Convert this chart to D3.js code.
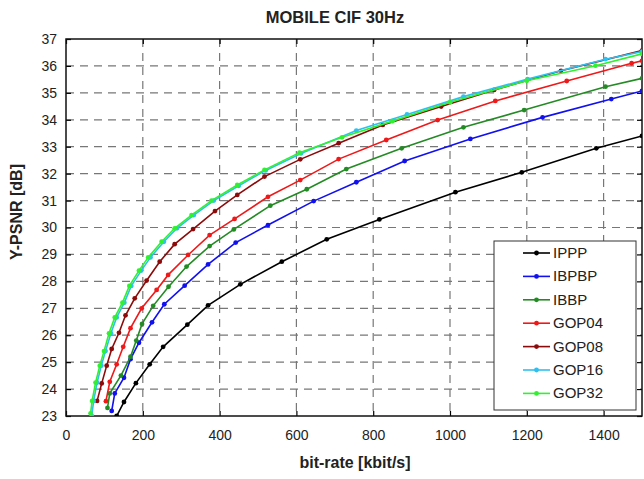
<!DOCTYPE html>
<html><head><meta charset="utf-8">
<script src="https://cdn.jsdelivr.net/npm/d3@7"></script>
<style>body{margin:0;background:#fff}svg{display:block}text{font-family:"Liberation Sans",Arial,sans-serif}</style>
</head><body><svg id="c" width="644" height="479"></svg>
<script>
const title = "MOBILE CIF 30Hz";
const xLabel = "bit-rate [kbit/s]";
const yLabel = "Y-PSNR [dB]";
const xTicks = [0,200,400,600,800,1000,1200,1400];
const yTicks = [23,24,25,26,27,28,29,30,31,32,33,34,35,36,37];
const seriesNames = ["IPPP","IBPBP","IBBP","GOP04","GOP08","GOP16","GOP32"];
const seriesColors = ["#000000","#1010f0","#238b23","#f01818","#8b0a0a","#2ec0f0","#30f030"];
const IPPP = [[132,23.0],[151,23.52],[182,24.22],[218,24.92],[253,25.57],[316,26.39],[370,27.11],[454,27.89],[562,28.73],[679,29.56],[816,30.30],[1014,31.31],[1187,32.05],[1381,32.94],[1500,33.4]];
const IBPBP = [[119,23.19],[127,23.84],[151,24.42],[168,25.11],[190,25.72],[224,26.48],[256,27.15],[309,27.84],[370,28.63],[442,29.44],[526,30.09],[645,30.98],[756,31.68],[882,32.47],[1053,33.29],[1241,34.09],[1420,34.77],[1500,35.07]];
const IBBP = [[108,23.3],[114,23.84],[143,24.50],[168,25.20],[183,25.8],[198,26.42],[227,27.09],[267,27.80],[314,28.55],[374,29.31],[437,29.93],[532,30.81],[627,31.42],[730,32.17],[874,32.94],[1035,33.72],[1193,34.36],[1405,35.23],[1500,35.54]];
const GOP04 = [[104,23.55],[114,24.27],[132,24.92],[149,25.57],[168,26.26],[197,27.0],[236,27.68],[266,28.24],[318,28.98],[374,29.72],[439,30.32],[526,31.14],[610,31.76],[710,32.54],[834,33.25],[968,33.99],[1118,34.70],[1304,35.44],[1473,36.10],[1500,36.19]];
const GOP08 = [[81,23.56],[93,24.21],[106,24.87],[119,25.49],[138,26.09],[155,26.74],[179,27.37],[210,28.03],[244,28.73],[283,29.38],[331,29.94],[388,30.61],[446,31.21],[517,31.89],[610,32.53],[710,33.13],[825,33.81],[977,34.49],[1115,35.11],[1289,35.82],[1500,36.57]];
const GOP16 = [[67,23.0],[72,23.56],[81,24.24],[92,24.87],[103,25.41],[117,26.07],[132,26.66],[152,27.21],[170,27.83],[196,28.40],[220,28.89],[255,29.47],[289,29.97],[333,30.46],[385,31.0],[450,31.55],[520,32.12],[612,32.75],[756,33.6],[888,34.2],[1035,34.86],[1202,35.51],[1405,36.25],[1500,36.53]];
const GOP32 = [[64,23.1],[68,23.56],[77,24.24],[88,24.87],[99,25.41],[112,26.07],[127,26.66],[147,27.21],[165,27.83],[190,28.40],[214,28.89],[249,29.47],[283,29.97],[327,30.46],[379,31.0],[446,31.58],[517,32.14],[608,32.78],[719,33.35],[850,33.95],[1000,34.65],[1200,35.45],[1379,36.01],[1500,36.45]];
const seriesData = [IPPP,IBPBP,IBBP,GOP04,GOP08,GOP16,GOP32];

const svg = d3.select("#c");
const L=66,R=642,T=39,B=416;
const x = d3.scaleLinear().domain([0,1500]).range([L,R]);
const y = d3.scaleLinear().domain([23,37]).range([B,T]);

svg.append("defs").append("clipPath").attr("id","clip").append("rect").attr("x",L).attr("y",T).attr("width",R-L).attr("height",B-T);

// grid
const g = svg.append("g");
g.selectAll(".gx").data(xTicks.filter(d=>d>0)).join("line").attr("x1",d=>x(d)).attr("x2",d=>x(d)).attr("y1",T).attr("y2",B)
 .attr("stroke","#777").attr("stroke-width",1.2).attr("stroke-dasharray","8,6");
g.selectAll(".gy").data(yTicks.filter(d=>d>23&&d<37)).join("line").attr("y1",d=>y(d)).attr("y2",d=>y(d)).attr("x1",L).attr("x2",R)
 .attr("stroke","#777").attr("stroke-width",1.2).attr("stroke-dasharray","8,6");

// axes
const fmt = d3.format("d");
const ax = svg.append("g").attr("transform",`translate(0,${B})`).call(d3.axisBottom(x).tickValues(xTicks).tickFormat(fmt).tickSize(-5).tickPadding(14));
const ax2 = svg.append("g").attr("transform",`translate(0,${T})`).call(d3.axisTop(x).tickValues(xTicks).tickSize(-5).tickFormat(""));
const ay = svg.append("g").attr("transform",`translate(${L},0)`).call(d3.axisLeft(y).tickValues(yTicks).tickFormat(fmt).tickSize(-5).tickPadding(9));
const ay2 = svg.append("g").attr("transform",`translate(${R},0)`).call(d3.axisRight(y).tickValues(yTicks).tickSize(-5).tickFormat(""));
[ax,ax2,ay,ay2].forEach(a=>{a.select(".domain").remove();a.selectAll("line").attr("stroke","#000").attr("stroke-width",1.2);a.selectAll("text").attr("font-size",14).attr("fill","#222").style("font-family","'Liberation Sans',Arial,sans-serif");});
svg.append("rect").attr("x",L).attr("y",T).attr("width",R-L).attr("height",B-T).attr("fill","none").attr("stroke","#111").attr("stroke-width",1.5);

// lines
const line = d3.line().x(d=>x(d[0])).y(d=>y(d[1]));
const pg = svg.append("g").attr("clip-path","url(#clip)");
seriesData.forEach((s,i)=>{
  pg.append("path").datum(s).attr("d",line).attr("fill","none").attr("stroke",seriesColors[i]).attr("stroke-width",1.6);
  pg.selectAll(null).data(s).join("circle").attr("cx",d=>x(d[0])).attr("cy",d=>y(d[1])).attr("r",2.4).attr("fill",seriesColors[i]);
});

// legend
const lg = svg.append("g");
lg.append("rect").attr("x",494).attr("y",241).attr("width",142).attr("height",169).attr("fill","#fff").attr("stroke","#333").attr("stroke-width",1);
seriesNames.forEach((n,i)=>{
  const yy = 253 + i*23.4;
  lg.append("line").attr("x1",523).attr("x2",550).attr("y1",yy).attr("y2",yy).attr("stroke",seriesColors[i]).attr("stroke-width",1.6);
  lg.append("circle").attr("cx",536.5).attr("cy",yy).attr("r",2.4).attr("fill",seriesColors[i]);
  lg.append("text").attr("x",553).attr("y",yy+5).attr("font-size",15).attr("fill","#222").text(n);
});

svg.append("text").attr("x",335).attr("y",23).attr("text-anchor","middle").attr("font-size",16.5).attr("font-weight","bold").attr("fill","#222").text(title);
svg.append("text").attr("x",355).attr("y",468).attr("text-anchor","middle").attr("font-size",16).attr("font-weight","bold").attr("fill","#222").text(xLabel);
svg.append("text").attr("transform","translate(22,212) rotate(-90)").attr("text-anchor","middle").attr("font-size",16).attr("font-weight","bold").attr("fill","#222").text(yLabel);
</script></body></html>
